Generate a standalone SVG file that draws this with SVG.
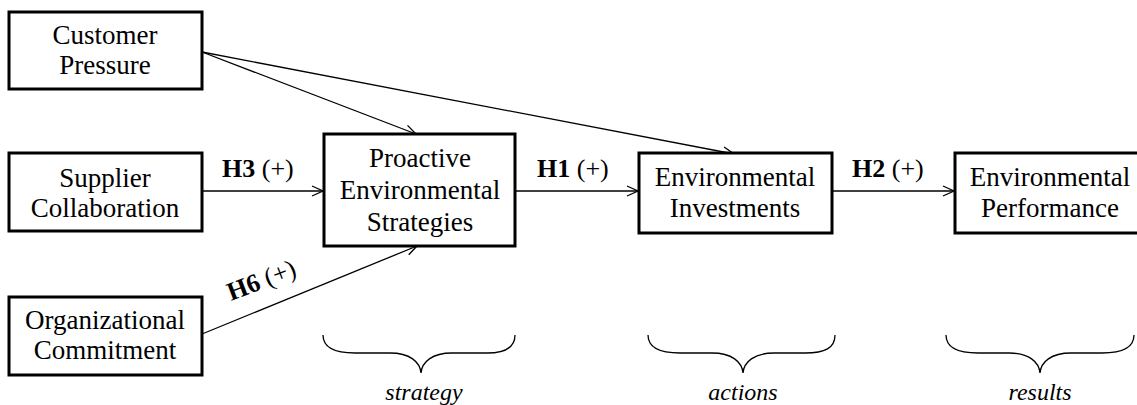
<svg xmlns="http://www.w3.org/2000/svg" width="1137" height="405" viewBox="0 0 1137 405">
<style>
.box{fill:#fff;stroke:#000;stroke-width:3}
.t{font-family:"Liberation Serif","Times New Roman",serif;font-size:27px;fill:#000;text-anchor:middle}
.lab{font-family:"Liberation Serif","Times New Roman",serif;font-size:26px;fill:#000}
.b{font-weight:bold}
.it{font-family:"Liberation Serif","Times New Roman",serif;font-size:24px;font-style:italic;fill:#000;text-anchor:middle}
.edge{fill:none;stroke:#000;stroke-width:1.3;marker-end:url(#ah)}
.brace{fill:none;stroke:#000;stroke-width:1.3}
</style>
<defs>
<marker id="ah" markerUnits="userSpaceOnUse" markerWidth="14" markerHeight="14" refX="12" refY="6" orient="auto" overflow="visible">
<path d="M1,1 L12,6 L1,11" fill="none" stroke="#000" stroke-width="1.3"/>
</marker>
</defs>
<rect width="1137" height="405" fill="#fff"/>
<g id="connectors">
<line class="edge" x1="202" y1="191" x2="323" y2="191"/>
<line class="edge" x1="515" y1="191" x2="638" y2="191"/>
<line class="edge" x1="832" y1="191" x2="954" y2="191"/>
<line class="edge" x1="202" y1="52" x2="416" y2="134"/>
<line class="edge" x1="202" y1="52" x2="734" y2="154"/>
<line class="edge" x1="202" y1="334" x2="417" y2="246"/>
<text class="lab" x="222" y="177"><tspan class="b">H3</tspan> (+)</text>
<text class="lab" x="537" y="177"><tspan class="b">H1</tspan> (+)</text>
<text class="lab" x="852" y="177"><tspan class="b">H2</tspan> (+)</text>
<text class="lab" transform="translate(231,301) rotate(-21)"><tspan class="b">H6</tspan> (+)</text>
</g>
<g id="customer">
<rect class="box" x="9" y="12" width="193" height="77"/>
<text class="t" x="105" y="44">Customer</text>
<text class="t" x="105" y="74">Pressure</text>
</g>
<g id="supplier">
<rect class="box" x="9" y="153" width="193" height="78"/>
<text class="t" x="105" y="187">Supplier</text>
<text class="t" x="105" y="217">Collaboration</text>
</g>
<g id="organizational">
<rect class="box" x="9" y="297" width="193" height="78"/>
<text class="t" x="105" y="329">Organizational</text>
<text class="t" x="105" y="359">Commitment</text>
</g>
<g id="proactive">
<rect class="box" x="324" y="134" width="191" height="112"/>
<text class="t" x="420" y="167">Proactive</text>
<text class="t" x="420" y="199">Environmental</text>
<text class="t" x="420" y="231">Strategies</text>
</g>
<g id="investments">
<rect class="box" x="639" y="153" width="193" height="80"/>
<text class="t" x="735" y="186">Environmental</text>
<text class="t" x="735" y="217">Investments</text>
</g>
<g id="performance">
<rect class="box" x="955" y="153" width="193" height="80"/>
<text class="t" x="1050" y="186">Environmental</text>
<text class="t" x="1050" y="217">Performance</text>
</g>
<g id="braces">
<path class="brace" d="M323,335 C323,348 335,353 355,353 L390,353 C410,353 420,362 421,373 C422,362 432,353 452,353 L487,353 C505,353 515,348 515,335"/>
<text class="it" x="424" y="400">strategy</text>
<path class="brace" d="M648,335 C648,348 660,353 680,353 L712,353 C732,353 742,362 743,373 C744,362 754,353 774,353 L805,353 C825,353 835,348 835,335"/>
<text class="it" x="743" y="400">actions</text>
<path class="brace" d="M946,335 C946,348 958,353 978,353 L1009,353 C1029,353 1039,362 1040,373 C1041,362 1051,353 1071,353 L1102,353 C1122,353 1134,348 1134,335"/>
<text class="it" x="1040" y="400">results</text>
</g>
</svg>
